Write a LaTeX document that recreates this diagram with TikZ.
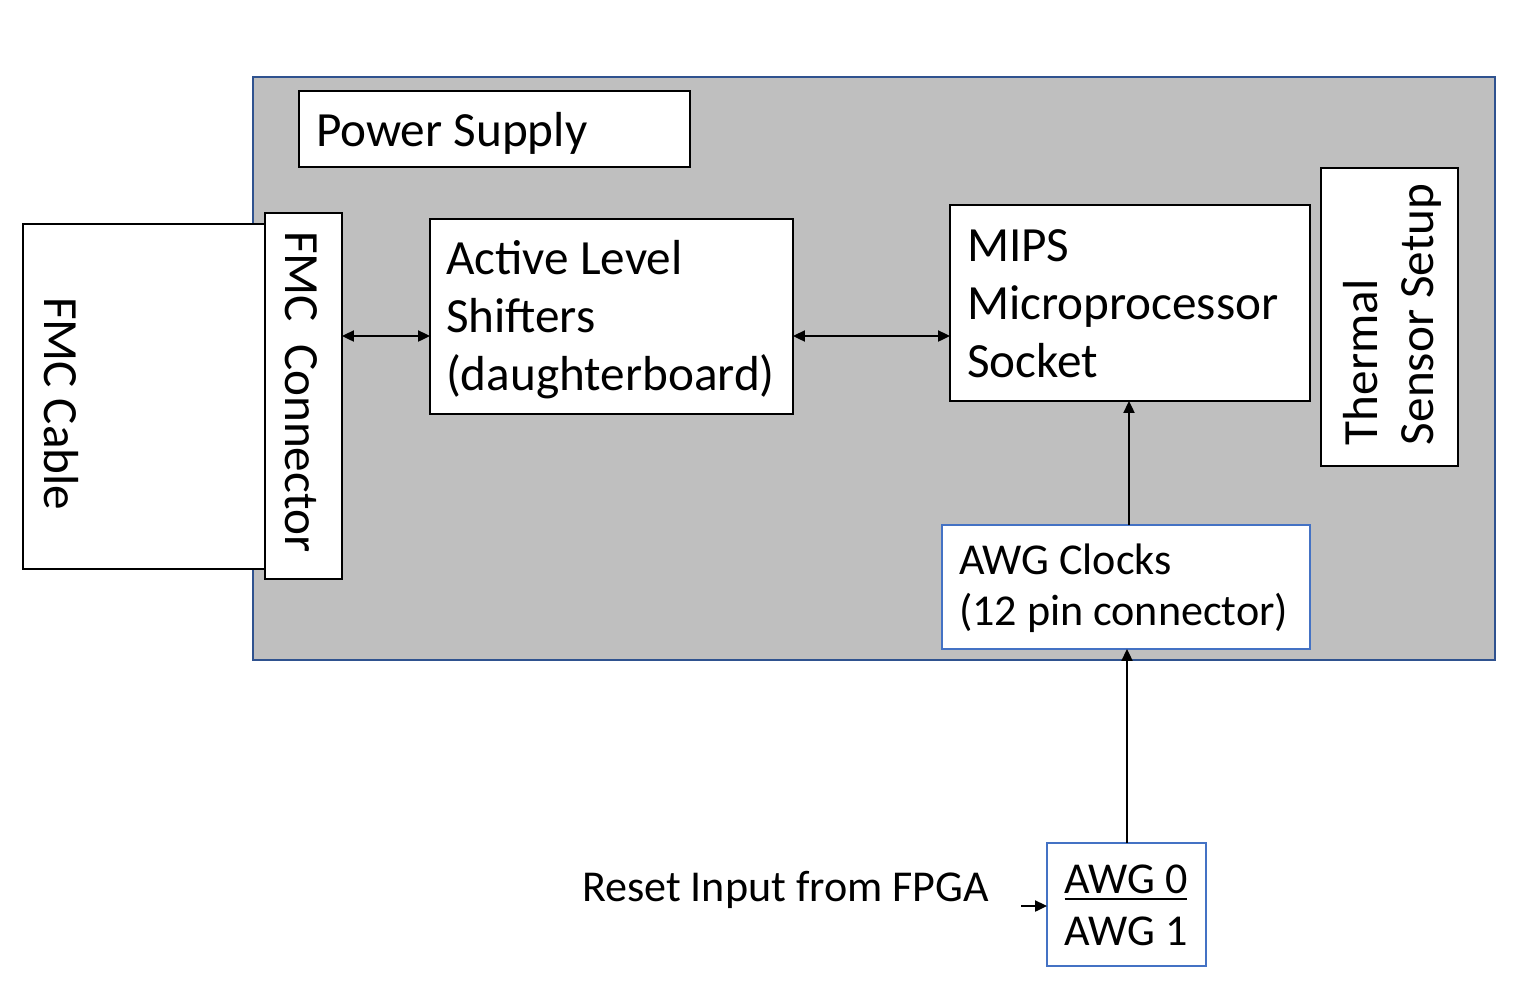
\documentclass[tikz,border=0pt]{standalone}
\usepackage{fontspec}
\setmainfont{Carlito}
\usetikzlibrary{fit,arrows.meta}
\definecolor{boardgray}{HTML}{BFBFBF}
\definecolor{boardblue}{HTML}{2F528F}
\definecolor{awgblue}{HTML}{4472C4}
\newcommand\linesL[1]{\begin{tabular}[t]{@{}l@{}}#1\end{tabular}}
\newcommand\linesC[1]{\begin{tabular}[t]{@{}c@{}}#1\end{tabular}}
\newcommand\ulbox[1]{\setbox0\hbox{#1}\rlap{\rule[-4.2pt]{\wd0}{1.5pt}}\box0}
\begin{document}
\begin{tikzpicture}[x=0.02cm,y=-0.02cm,
  board/.style={draw=boardblue,line width=1.1pt,fill=boardgray,inner sep=0pt,outer sep=0pt},
  box/.style={draw=black,line width=1.3pt,fill=white,inner sep=0pt,outer sep=0pt},
  bluebox/.style={draw=awgblue,line width=1.1pt,fill=white,inner sep=0pt,outer sep=0pt},
  bigtxt/.style={inner sep=0pt,outer sep=0pt,font=\fontsize{28}{33.2}\selectfont},
  smalltxt/.style={inner sep=0pt,outer sep=0pt,font=\fontsize{25.1}{29.2}\selectfont},
  arr/.style={line width=0.75pt,-{Triangle[length=6.8pt,width=6.4pt]}},
  biarr/.style={line width=0.75pt,{Triangle[length=6.8pt,width=6.4pt]}-{Triangle[length=6.8pt,width=6.4pt]}}]
\useasboundingbox (0,0) rectangle (1524,992);
% board and boxes
\node[board,fit={(253,77)(1495,660)}] (board) {};
\node[box,fit={(299,91)(690,167)}] (ps) {};
\node[box,fit={(23,224)(265,569)}] (cable) {};
\node[box,fit={(265,213)(342,579)}] (conn) {};
\node[box,fit={(430,219)(793,414)}] (als) {};
\node[box,fit={(950,205)(1310,401)}] (mips) {};
\node[box,fit={(1321,168)(1458,466)}] (therm) {};
\node[bluebox,fit={(942,525)(1310,649)}] (clk) {};
\node[bluebox,fit={(1047,843)(1206,966)}] (awg) {};
% texts
\node[bigtxt,anchor=base west] (pstxt) at (316,146) {Power Supply};
\node[bigtxt,anchor=base west,rotate=-90] (cabletxt) at (44,297) {FMC Cable};
\node[bigtxt,anchor=base west,rotate=-90] (conntxt) at (285,231) {FMC\ \ Connector};
\node[bigtxt,anchor=base west] (alstxt) at (446,274) {\linesL{Active Level\\Shifters\\(daughterboard)}};
\node[bigtxt,anchor=base west] (mipstxt) at (967,261) {\linesL{MIPS\\Microprocessor\\Socket}};
\node[bigtxt,anchor=base west,rotate=90,font=\fontsize{28}{32}\selectfont] (thermtxt) at (1377,445) {\linesL{Thermal\\Sensor Setup}};
\node[smalltxt,anchor=base west] (clktxt) at (959,574) {\linesL{AWG Clocks\\(12 pin connector)}};
\node[smalltxt,anchor=base,font=\fontsize{25.1}{29.6}\selectfont] (awgtxt) at (1126,893) {\linesC{\ulbox{AWG 0}\\AWG 1}};
\node[smalltxt,anchor=base west] (rsttxt) at (582,901) {Reset Input from FPGA};
% connectors
\coordinate (r1) at (0,336);
\coordinate (c1) at (1129,0);
\coordinate (c2) at (1127,0);
\coordinate (rst) at (1021,906);
\draw[biarr] (conn.east |- r1) -- (als.west |- r1);
\draw[biarr] (als.east |- r1) -- (mips.west |- r1);
\draw[arr] (clk.north -| c1) -- (mips.south -| c1);
\draw[arr] (awg.north -| c2) -- (clk.south -| c2);
\draw[arr] (rst) -- (awg.west |- rst);
\end{tikzpicture}
\end{document}
